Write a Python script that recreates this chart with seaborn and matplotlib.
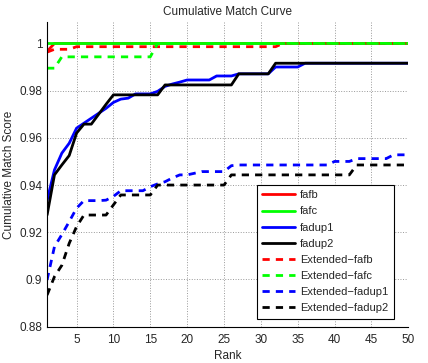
#!/usr/bin/env python

import matplotlib
matplotlib.use("Agg")
import matplotlib.pyplot as plt
import seaborn as sns
import pandas as pd
import numpy as np

sns.set_style("white")
plt.rcParams['font.family'] = ['Liberation Sans', 'DejaVu Sans']

#########################################################################################
# data
#########################################################################################

ranks = list(range(1, 51))

fafb = [0.9966] + [1.0] * 49
fafc = [1.0] * 50

fadup1 = [0.9335, 0.9464, 0.9535, 0.9577, 0.9641, 0.9662, 0.9683, 0.9704, 0.9725, 0.9750,
          0.9764, 0.9768, 0.9786, 0.9786, 0.9786, 0.9797, 0.9818, 0.9828, 0.9836, 0.9845,
          0.9845, 0.9845, 0.9845, 0.9862, 0.9862, 0.9862, 0.9871, 0.9871, 0.9871, 0.9871,
          0.9871, 0.9900, 0.9900, 0.9900, 0.9900, 0.9916, 0.9916, 0.9916, 0.9916, 0.9916,
          0.9916, 0.9916, 0.9916, 0.9916, 0.9916, 0.9916, 0.9916, 0.9916, 0.9916, 0.9916]

fadup2 = [0.9273, 0.9443, 0.9485, 0.9525, 0.9620, 0.9658, 0.9658, 0.9700, 0.9742, 0.9782,
          0.9782, 0.9782, 0.9782, 0.9782, 0.9782, 0.9782, 0.9824, 0.9824, 0.9824, 0.9824,
          0.9824, 0.9824, 0.9824, 0.9824, 0.9824, 0.9824, 0.9871, 0.9871, 0.9871, 0.9871,
          0.9871, 0.9916, 0.9916, 0.9916, 0.9916, 0.9916, 0.9916, 0.9916, 0.9916, 0.9916,
          0.9916, 0.9916, 0.9916, 0.9916, 0.9916, 0.9916, 0.9916, 0.9916, 0.9916, 0.9916]

ext_fafb = [0.9963, 0.9975, 0.9975, 0.9975] + [0.9986] * 28 + [1.0] * 18

ext_fafc = [0.9895, 0.9895] + [0.9943] * 13 + [1.0] * 35

ext_fadup1 = [0.8998, 0.9139, 0.9190, 0.9245, 0.9302, 0.9334, 0.9334, 0.9334, 0.9336, 0.9352,
              0.9376, 0.9376, 0.9376, 0.9376, 0.9393, 0.9405, 0.9414, 0.9430, 0.9443, 0.9443,
              0.9450, 0.9457, 0.9457, 0.9457, 0.9457, 0.9482, 0.9485, 0.9485, 0.9485, 0.9485,
              0.9485, 0.9485, 0.9485, 0.9485, 0.9485, 0.9485, 0.9485, 0.9485, 0.9485, 0.9500,
              0.9500, 0.9500, 0.9512, 0.9512, 0.9512, 0.9512, 0.9512, 0.9528, 0.9528, 0.9528]

ext_fadup2 = [0.8934, 0.9012, 0.9060, 0.9153, 0.9224, 0.9273, 0.9273, 0.9273, 0.9273, 0.9316,
              0.9358, 0.9358, 0.9358, 0.9358, 0.9358, 0.9400, 0.9400, 0.9400, 0.9400, 0.9400,
              0.9400, 0.9400, 0.9400, 0.9400, 0.9400, 0.9443, 0.9443, 0.9443, 0.9443, 0.9443,
              0.9443, 0.9443, 0.9443, 0.9443, 0.9443, 0.9443, 0.9443, 0.9443, 0.9443, 0.9443,
              0.9443, 0.9443, 0.9485, 0.9485, 0.9485, 0.9485, 0.9485, 0.9485, 0.9485, 0.9485]

labels = ['fafb', 'fafc', 'fadup1', 'fadup2',
          'Extended\u2212fafb', 'Extended\u2212fafc', 'Extended\u2212fadup1', 'Extended\u2212fadup2']
series = [fafb, fafc, fadup1, fadup2, ext_fafb, ext_fafc, ext_fadup1, ext_fadup2]
colors = ['#ff0000', '#00ff00', '#0000ff', '#000000'] * 2
dashed = [False] * 4 + [True] * 4

yticks = [0.88, 0.9, 0.92, 0.94, 0.96, 0.98, 1]
ytick_labels = ['0.88', '0.9', '0.92', '0.94', '0.96', '0.98', '1']
xticks = [5, 10, 15, 20, 25, 30, 35, 40, 45, 50]


def main():
    fig = plt.figure(figsize=(4.28, 3.63), dpi=100)
    ax = fig.add_axes([0.110, 0.100, 0.844, 0.839])

    for lab, vals, col, dsh in zip(labels, series, colors, dashed):
        df = pd.DataFrame({'Rank': ranks, 'Score': vals})
        sns.lineplot(data=df, x='Rank', y='Score', ax=ax, color=col,
                     linewidth=2, label=lab)
        if dsh:
            ax.lines[-1].set_dashes((2.6, 2.2))

    ax.set_xlim(1, 50)
    ax.set_ylim(0.88, 1.009)
    ax.set_xticks(xticks)
    ax.set_yticks(yticks)
    ax.set_yticklabels(ytick_labels)
    ax.tick_params(direction='in', length=3, labelsize=8.5, width=0.8)
    ax.tick_params(axis='x', pad=5)
    ax.grid(True, linestyle=':', color='#999999', linewidth=0.7)
    for s in ['top', 'right']:
        ax.spines[s].set_visible(False)
    for s in ['left', 'bottom']:
        ax.spines[s].set_color('black')
        ax.spines[s].set_linewidth(0.8)

    ax.set_title('Cumulative Match Curve', fontsize=8.5, pad=5)
    ax.set_xlabel('Rank', fontsize=8.5, labelpad=3)
    ax.set_ylabel('Cumulative Match Score', fontsize=8.5, labelpad=3)

    leg = ax.legend(loc='lower right', bbox_to_anchor=(0.975, 0.008), fontsize=8,
                    handlelength=3.0, handletextpad=0.4, labelspacing=0.55, borderpad=0.5,
                    fancybox=False, framealpha=1, edgecolor='black')
    leg.get_frame().set_linewidth(0.8)

    fig.savefig('out.png', dpi=100)


if __name__ == "__main__":
    main()
